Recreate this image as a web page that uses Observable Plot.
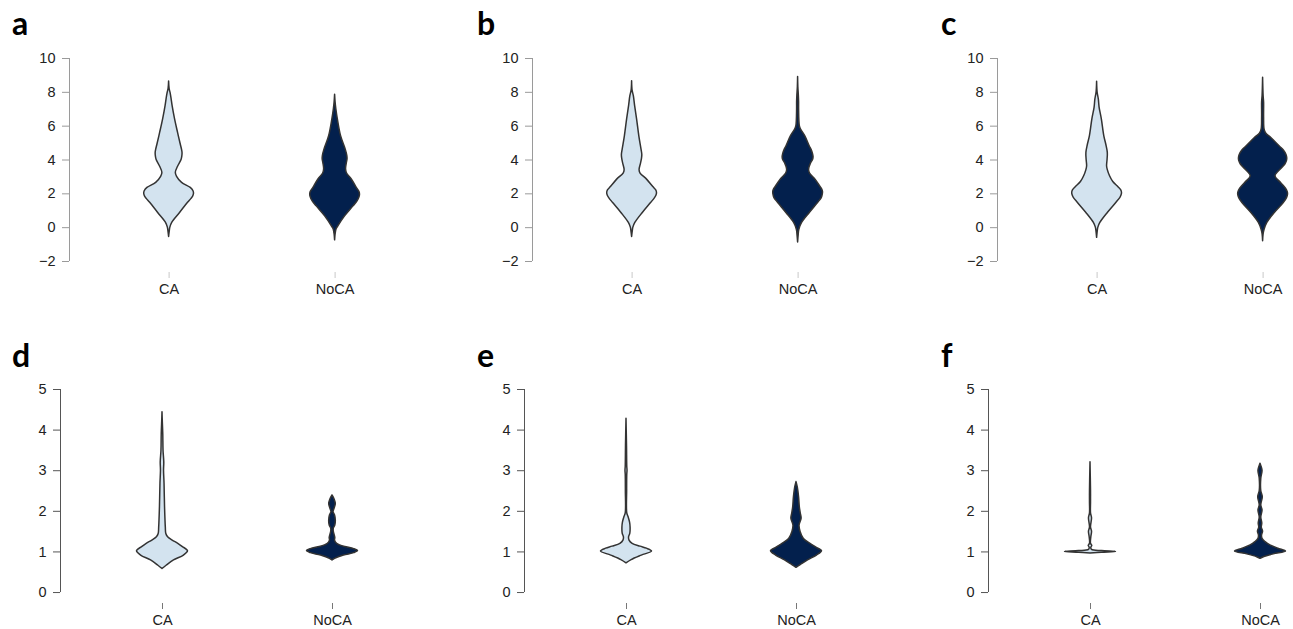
<!DOCTYPE html>
<html>
<head>
<meta charset="utf-8">
<script src="https://cdn.jsdelivr.net/npm/d3@7"></script>
<script src="https://cdn.jsdelivr.net/npm/@observablehq/plot@0.6"></script>
<style>
  html, body { margin: 0; padding: 0; background: #fff; }
  #wrap { position: relative; width: 1293px; height: 629px; overflow: hidden; background: #fff; }
  #wrap svg.panel { position: absolute; overflow: visible; }
</style>
</head>
<body>
<div id="wrap"></div>
<script>
// ---- data ----
const groups = ["CA", "NoCA"];
const panelLetters = ["a", "b", "c", "d", "e", "f"];
const ticksTop = [-2, 0, 2, 4, 6, 8, 10];
const ticksBottom = [0, 1, 2, 3, 4, 5];

// violin profiles: [value, relative density (max = 1)]
const aCA = [[-0.55,0],[-0.3,0.02],[0,0.05],[0.3,0.13],[0.87,0.44],[1.47,0.76],[1.7,0.9],[1.85,0.97],[2.0,1.0],[2.15,0.98],[2.35,0.87],[2.65,0.52],[3.0,0.32],[3.25,0.27],[3.6,0.36],[4.0,0.5],[4.2,0.53],[4.4,0.54],[4.6,0.52],[4.9,0.47],[5.6,0.36],[6.4,0.24],[7.2,0.14],[7.6,0.1],[7.95,0.06],[8.2,0.02],[8.64,0]];
const aNoCA = [[-0.75,0],[-0.4,0.02],[-0.1,0.06],[0.08,0.13],[0.67,0.4],[1.26,0.74],[1.55,0.9],[1.8,0.98],[1.95,1.0],[2.1,0.98],[2.35,0.87],[2.85,0.67],[3.2,0.48],[3.45,0.44],[3.8,0.47],[4.05,0.5],[4.25,0.49],[4.6,0.43],[5.4,0.24],[6.4,0.11],[7.0,0.05],[7.4,0.02],[7.85,0]];
const bCA = [[-0.55,0],[-0.3,0.02],[0,0.05],[0.28,0.13],[0.87,0.43],[1.47,0.77],[1.75,0.92],[1.9,0.98],[2.05,1.0],[2.2,0.97],[2.4,0.85],[2.84,0.6],[3.2,0.34],[3.4,0.3],[3.8,0.36],[4.1,0.4],[4.3,0.41],[4.6,0.38],[5.4,0.29],[6.4,0.2],[7.2,0.12],[7.77,0.07],[8.1,0.02],[8.66,0]];
const bNoCA = [[-0.87,0],[-0.5,0.02],[-0.12,0.05],[0.28,0.16],[0.87,0.47],[1.46,0.8],[1.75,0.95],[1.95,0.99],[2.1,1.0],[2.25,0.97],[2.45,0.88],[2.84,0.7],[3.2,0.48],[3.43,0.44],[3.8,0.52],[4.0,0.6],[4.15,0.62],[4.35,0.6],[4.6,0.54],[4.8,0.47],[5.4,0.29],[5.8,0.12],[6.0,0.07],[7.0,0.04],[7.4,0.04],[7.8,0.03],[8.3,0.01],[8.9,0]];
const cCA = [[-0.6,0],[-0.3,0.02],[0,0.05],[0.28,0.13],[0.87,0.43],[1.46,0.77],[1.75,0.93],[1.9,0.98],[2.05,1.0],[2.2,0.97],[2.4,0.85],[2.7,0.65],[3.04,0.52],[3.4,0.43],[3.63,0.4],[4.0,0.42],[4.42,0.43],[4.9,0.37],[5.4,0.29],[6.4,0.19],[7.1,0.1],[7.57,0.07],[8.0,0.02],[8.62,0]];
const cNoCA = [[-0.8,0],[-0.4,0.02],[-0.12,0.06],[0.28,0.17],[0.87,0.47],[1.46,0.83],[1.75,0.96],[1.95,1.0],[2.1,0.99],[2.3,0.92],[2.64,0.72],[3.04,0.5],[3.45,0.72],[3.75,0.9],[3.95,0.96],[4.1,0.97],[4.3,0.94],[4.55,0.84],[4.8,0.67],[5.3,0.33],[5.55,0.13],[5.8,0.06],[6.5,0.04],[7.4,0.04],[7.8,0.02],[8.86,0]];
const dCA = [[0.58,0],[0.66,0.16],[0.79,0.45],[0.91,0.84],[1.02,1.0],[1.12,0.8],[1.2,0.62],[1.28,0.4],[1.36,0.22],[1.44,0.15],[1.6,0.13],[2.1,0.1],[2.68,0.08],[3.0,0.06],[3.2,0.07],[3.5,0.04],[3.9,0.03],[4.24,0.01],[4.44,0]];
const dNoCA = [[0.79,0],[0.83,0.1],[0.91,0.45],[0.97,0.85],[1.02,1.0],[1.07,0.85],[1.12,0.5],[1.16,0.3],[1.2,0.18],[1.28,0.1],[1.34,0.11],[1.4,0.09],[1.5,0.05],[1.57,0.05],[1.65,0.11],[1.77,0.13],[1.9,0.1],[1.98,0.04],[2.06,0.08],[2.18,0.13],[2.28,0.09],[2.39,0]];
const eCA = [[0.72,0],[0.8,0.2],[0.91,0.6],[1.01,1.0],[1.08,0.8],[1.13,0.55],[1.2,0.24],[1.28,0.12],[1.36,0.1],[1.45,0.15],[1.6,0.16],[1.72,0.14],[1.86,0.08],[1.95,0.03],[2.5,0.025],[2.9,0.03],[3.0,0.04],[3.1,0.03],[3.6,0.02],[4.28,0]];
const eNoCA = [[0.61,0],[0.67,0.15],[0.79,0.45],[0.91,0.8],[1.02,1.0],[1.1,0.8],[1.2,0.55],[1.32,0.29],[1.49,0.16],[1.65,0.12],[1.82,0.2],[1.94,0.17],[2.1,0.13],[2.35,0.1],[2.59,0.05],[2.72,0]];
const fCA = [[0.96,0],[0.98,0.45],[1.0,1.0],[1.02,0.45],[1.05,0.06],[1.1,0.03],[1.15,0.07],[1.2,0.02],[1.35,0.03],[1.5,0.06],[1.6,0.02],[1.83,0.06],[1.95,0.02],[2.2,0.02],[2.5,0.02],[3.21,0]];
const fNoCA = [[0.83,0],[0.87,0.13],[0.94,0.52],[1.01,1.0],[1.08,0.7],[1.16,0.39],[1.24,0.2],[1.32,0.08],[1.4,0.06],[1.5,0.1],[1.6,0.05],[1.7,0.07],[1.85,0.03],[2.02,0.08],[2.15,0.03],[2.35,0.09],[2.5,0.03],[2.8,0.03],[3.0,0.08],[3.1,0.04],[3.17,0]];

const violins = [[aCA, aNoCA], [bCA, bNoCA], [cCA, cNoCA], [dCA, dNoCA], [eCA, eNoCA], [fCA, fNoCA]];

// ---- styling / layout ----
const fills = ["#d3e3ef", "#03204d"];
const FONT = "'Liberation Sans', Arial, sans-serif";
const ML = 60;
const xDomain = [0.4, 2.4];
const wex = 0.15;
const rows = [
  { ticks: ticksTop, yDomain: [-2.65, 10], svgTop: 0, marginTop: 58, marginBottom: 40, plotBottom: 272, ppu: 166,
    axisColor: "#9a9a9a", xTickColor: "#c8c8c8", letterY: 35, axisXs: [69, 532, 997], letterXs: [12, 477, 941] },
  { ticks: ticksBottom, yDomain: [-0.27, 5], svgTop: 320, marginTop: 69, marginBottom: 26, plotBottom: 603, ppu: 170,
    axisColor: "#555", xTickColor: "#777", letterY: 367, axisXs: [60, 524, 988], letterXs: [12, 477, 941] }
];

const wrap = document.getElementById("wrap");

panelLetters.forEach((letter, i) => {
  const row = rows[Math.floor(i / 3)];
  const col = i % 3;
  const width = ML + (xDomain[1] - xDomain[0]) * row.ppu;
  const height = row.plotBottom - row.svgTop + row.marginBottom;
  const marks = [];
  violins[i].forEach((prof, g) => {
    const pos = g + 1;
    marks.push(Plot.areaX(prof, {
      y: d => d[0],
      x1: d => pos - d[1] * wex,
      x2: d => pos + d[1] * wex,
      fill: fills[g],
      stroke: "#333",
      strokeWidth: 1.5,
      strokeLinejoin: "round",
      curve: "catmull-rom"
    }));
  });
  marks.push(Plot.ruleX([xDomain[0]], { y1: d3.min(row.ticks), y2: d3.max(row.ticks), stroke: row.axisColor, strokeWidth: 1 }));
  marks.push(Plot.axisY(row.ticks, { tickSize: 7, tickPadding: 7, stroke: row.axisColor, fill: "#222", fontSize: 14.5 }));
  marks.push(Plot.axisX([1, 2], { tickSize: 6, tickPadding: 5, stroke: row.xTickColor, fill: "#222", fontSize: 14.5, tickFormat: d => groups[d - 1] }));

  const svg = Plot.plot({
    width, height,
    marginLeft: ML, marginRight: 0, marginTop: row.marginTop, marginBottom: row.marginBottom,
    x: { domain: xDomain },
    y: { domain: row.yDomain },
    style: { fontFamily: FONT, fontSize: "14.5px", color: "#222", background: "transparent", overflow: "visible" },
    marks
  });
  svg.classList.add("panel");
  svg.style.left = (row.axisXs[col] - ML) + "px";
  svg.style.top = row.svgTop + "px";
  wrap.appendChild(svg);
});

// panel letters
const overlay = d3.select(wrap).append("svg")
  .attr("width", 1293).attr("height", 629)
  .style("position", "absolute").style("left", 0).style("top", 0);
panelLetters.forEach((letter, i) => {
  const row = rows[Math.floor(i / 3)];
  overlay.append("text")
    .attr("x", row.letterXs[i % 3]).attr("y", row.letterY)
    .attr("font-family", "Lato, 'Open Sans', sans-serif")
    .attr("font-weight", 700).attr("font-size", 32)
    .attr("fill", "#000")
    .text(letter);
});
</script>
</body>
</html>
